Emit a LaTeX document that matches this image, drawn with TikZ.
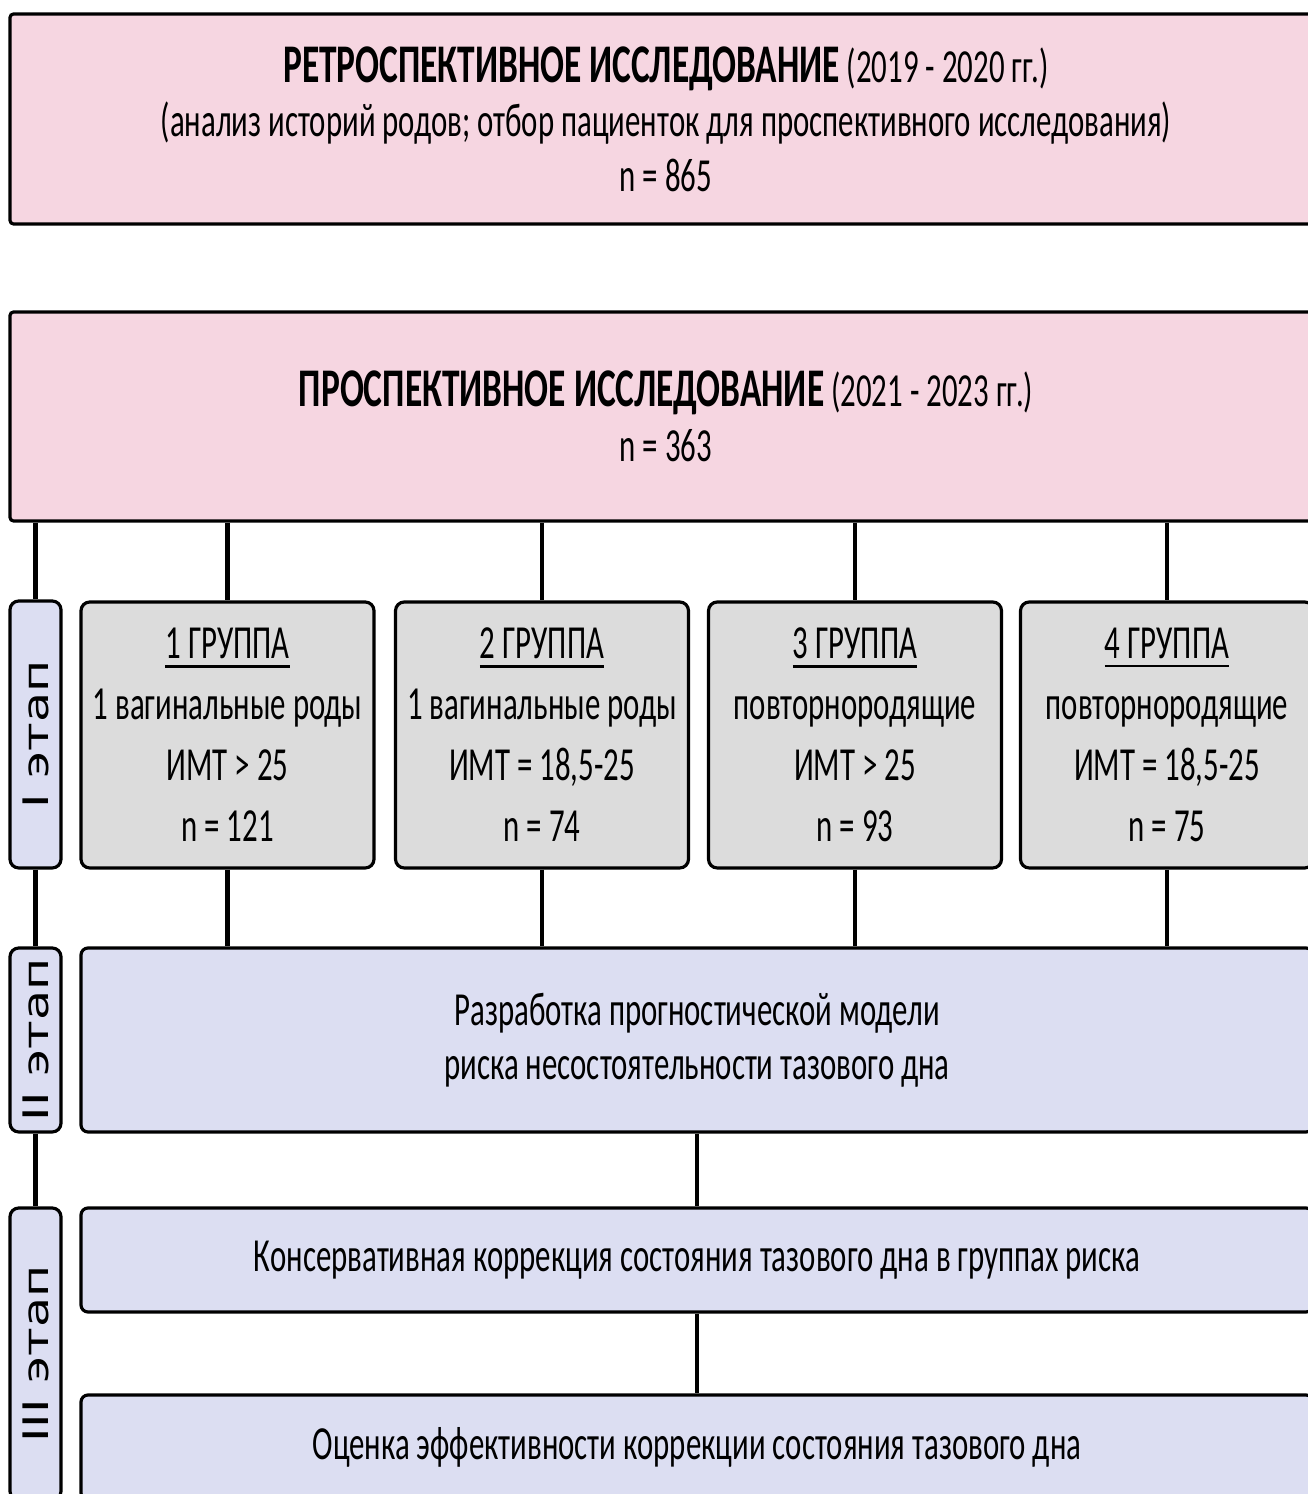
\documentclass[tikz,border=0pt]{standalone}
\usepackage{fontspec}
\setmainfont{Carlito}[FakeStretch=0.65]
\newfontfamily\stagefont{DejaVu Sans}[FakeStretch=1.4]
\usepackage{xcolor}
\usepackage{tikz}
\usetikzlibrary{positioning}
\definecolor{pinkbox}{RGB}{246,214,225}
\definecolor{lilacbox}{RGB}{220,222,242}
\definecolor{greybox}{RGB}{220,220,220}
\newcommand{\ulgroup}[1]{\setbox0\hbox{#1}\copy0\llap{\rule[-5pt]{\wd0}{1.6pt}}}

\begin{document}
\begin{tikzpicture}[
    study/.style={rectangle, draw, line width=1.8pt, fill=pinkbox, rounded corners=2pt, minimum width=26.24cm, align=center, font=\fontsize{27}{31}\selectfont},
    group/.style={rectangle, draw, line width=1.8pt, fill=greybox, rounded corners=5pt, minimum width=5.86cm, minimum height=5.32cm, align=center, font=\fontsize{27}{34.7}\selectfont},
    stage/.style={rectangle, draw, line width=1.8pt, fill=lilacbox, rounded corners=5pt, minimum height=1.02cm, rotate=90, font=\stagefont\fontsize{20}{20}\selectfont},
    task/.style={rectangle, draw, line width=1.8pt, fill=lilacbox, rounded corners=4pt, minimum width=24.64cm, align=center, font=\fontsize{27}{31}\selectfont},
    edge/.style={line width=2.5pt}
]
\useasboundingbox (0,0) rectangle (26.16,29.88);

% Ретроспективное и проспективное исследование
\node[study, minimum height=4.2cm] (R) at (13.32,27.5) {{\fontsize{31}{31}\selectfont\textbf{РЕТРОСПЕКТИВНОЕ ИССЛЕДОВАНИЕ}} (2019 - 2020 гг.)\\(анализ историй родов; отбор пациенток для проспективного исследования)\\n = 865};
\node[study, minimum height=4.18cm] (P) at (13.32,21.55) {{\fontsize{31}{31}\selectfont\textbf{ПРОСПЕКТИВНОЕ ИССЛЕДОВАНИЕ}} (2021 - 2023 гг.)\\n = 363};

% Этапы
\node[stage, minimum width=5.34cm] (S1) at (0.71,15.19) {I этап};
\node[stage, minimum width=3.68cm] (S2) at (0.71,9.08) {II этап};
\node[stage, minimum width=5.84cm] (S3) at (0.71,2.8) {III этап};

% Группы
\node[group] (G1) at (4.55,15.18) {\ulgroup{1 ГРУППА}\\1 вагинальные роды\\ИМТ > 25\\n = 121};
\node[group] (G2) at (10.84,15.18) {\ulgroup{2 ГРУППА}\\1 вагинальные роды\\ИМТ = 18,5-25\\n = 74};
\node[group] (G3) at (17.10,15.18) {\ulgroup{3 ГРУППА}\\повторнородящие\\ИМТ > 25\\n = 93};
\node[group] (G4) at (23.34,15.18) {\ulgroup{4 ГРУППА}\\повторнородящие\\ИМТ = 18,5-25\\n = 75};

% Модель и коррекция
\node[task, minimum height=3.68cm] (M) at (13.94,9.08) {Разработка прогностической модели\\риска несостоятельности тазового дна};
\node[task, minimum height=2.08cm] (K) at (13.94,4.68) {Консервативная коррекция состояния тазового дна в группах риска};
\node[task, minimum height=2.1cm] (O) at (13.94,0.93) {Оценка эффективности коррекции состояния тазового дна};

% Связи
\draw[edge] (P.south -| S1) -- (S1.east);
\draw[edge] (S1.west) -- (S2.east);
\draw[edge] (S2.west) -- (S3.east);
\draw[edge] (P.south -| G1) -- (G1.north);
\draw[edge] (P.south -| G2) -- (G2.north);
\draw[edge] (P.south -| G3) -- (G3.north);
\draw[edge] (P.south -| G4) -- (G4.north);
\draw[edge] (G1.south) -- (G1.south |- M.north);
\draw[edge] (G2.south) -- (G2.south |- M.north);
\draw[edge] (G3.south) -- (G3.south |- M.north);
\draw[edge] (G4.south) -- (G4.south |- M.north);
\draw[edge] (M.south) -- (K.north);
\draw[edge] (K.south) -- (O.north);

\end{tikzpicture}
\end{document}
